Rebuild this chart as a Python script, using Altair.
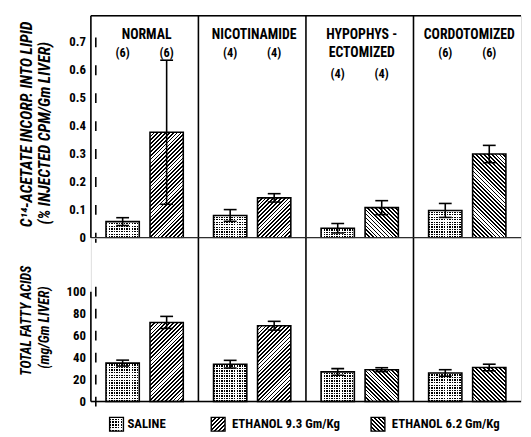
import math
import altair as alt
import pandas as pd

# ---------------- data ----------------
panels = ["NORMAL", "NICOTINAMIDE", "HYPOPHYSECTOMIZED", "CORDOTOMIZED"]
panel_titles = ["NORMAL", "NICOTINAMIDE", "HYPOPHYS -\nECTOMIZED", "CORDOTOMIZED"]
ethanol_dose = ["9.3", "9.3", "6.2", "6.2"]
n_saline = [6, 4, 4, 6]
n_ethanol = [6, 4, 4, 6]

acetate_saline = [0.058, 0.080, 0.034, 0.098]
acetate_saline_se = [0.014, 0.021, 0.017, 0.025]
acetate_ethanol = [0.378, 0.143, 0.108, 0.300]
acetate_ethanol_se = [0.258, 0.015, 0.025, 0.031]

fatty_saline = [35, 34, 27, 26]
fatty_saline_se = [2.7, 3.5, 3.0, 3.0]
fatty_ethanol = [72, 69, 29, 31]
fatty_ethanol_se = [5.5, 4.0, 1.8, 3.0]

acetate_ticks = [0, 0.1, 0.2, 0.3, 0.4, 0.5, 0.6, 0.7]
acetate_tick_labels = ["0", "0.1", "0.2", "0.3", "0.4", "0.5", "0.6", "0.7"]
fatty_ticks = [0, 20, 40, 60, 80, 100]
fatty_tick_labels = ["0", "20", "40", "60", "80", "100"]
acetate_title = ["C\u00b9\u2074-ACETATE  INCORP. INTO LIPID", "(% INJECTED CPM/Gm LIVER)"]
fatty_title = ["TOTAL FATTY ACIDS", "(mg/Gm LIVER)"]
legend_labels = ["SALINE", "ETHANOL 9.3 Gm/Kg", "ETHANOL 6.2 Gm/Kg"]

# ---------------- layout / style ----------------
FONT = "Roboto Condensed, Liberation Sans Narrow, Roboto, sans-serif"
PANEL_W = 109
W = PANEL_W * len(panels)
H_TOP, H_BOT = 225, 166
TOP_MAX, BOT_MAX = 0.795, 149
PAD_IN, PAD_OUT = 0.244, 0.344
STEP = PANEL_W / (2 - PAD_IN + 2 * PAD_OUT)
BAR_W = STEP * (1 - PAD_IN)
LW = 1.6
legend_swatch_x = [26, 129, 291]
legend_text_x = [37, 143, 305]
TITLE_X = [-65, -46]


def stripe_stops(n, frac, on, off):
    stops = []
    for k in range(n):
        a, b, c = k / n, (k + frac) / n, (k + 1) / n
        stops += [
            {"offset": round(a, 5), "color": on},
            {"offset": round(b, 5), "color": on},
            {"offset": round(b, 5), "color": off},
            {"offset": round(c, 5), "color": off},
        ]
    return stops


def hatch(w, h, forward, period=2.8, frac=0.45):
    h = max(h, 1.0)
    lam = (w + h) / (w * w + h * h)
    n = max(1, round((w + h) / math.sqrt(2) / period))
    if forward:
        x1, y1, x2, y2 = 0, 0, lam * w, lam * h
    else:
        x1, y1, x2, y2 = 0, 1, lam * w, 1 - lam * h
    return {"gradient": "linear", "x1": x1, "y1": y1, "x2": x2, "y2": y2,
            "stops": stripe_stops(n, frac, "black", "white")}


def vstripes(w, period=2.6):
    n = max(1, round(w / period))
    return {"gradient": "linear", "x1": 0, "y1": 0, "x2": 1, "y2": 0,
            "stops": stripe_stops(n, 0.55, "black", "white")}


def hstripes(h, period=2.6):
    n = max(1, round(max(h, 1) / period))
    return {"gradient": "linear", "x1": 0, "y1": 0, "x2": 0, "y2": 1,
            "stops": stripe_stops(n, 0.45, "white", "transparent")}


def make_row(sal, sal_se, eth, eth_se, ymax, height, ticks, tick_labels, title,
             title_size, title_y, top):
    rows = []
    for i, p in enumerate(panels):
        rows.append(dict(panel=p, title=panel_titles[i], slot="S", n=n_saline[i],
                         value=sal[i], se=sal_se[i]))
        rows.append(dict(panel=p, title=panel_titles[i], slot="E", n=n_ethanol[i],
                         value=eth[i], se=eth_se[i]))
    df = pd.DataFrame(rows)
    px = height / ymax

    fill_conds = [{"test": "datum.slot === 'S'", "value": vstripes(BAR_W)}]
    over_conds = []
    for i, p in enumerate(panels):
        fill_conds.append({
            "test": f"datum.panel === '{p}' && datum.slot === 'E'",
            "value": hatch(BAR_W, eth[i] * px, ethanol_dose[i] == "9.3"),
        })
        over_conds.append({
            "test": f"datum.panel === '{p}'",
            "value": hstripes(sal[i] * px),
        })

    X = alt.X("panel:N", sort=panels, axis=None,
              scale=alt.Scale(paddingInner=0, paddingOuter=0))
    XO = alt.XOffset("slot:N", sort=["S", "E"],
                     scale=alt.Scale(paddingInner=PAD_IN, paddingOuter=PAD_OUT))
    Y = alt.Y("value:Q", scale=alt.Scale(domain=[0, ymax], nice=False, zero=True),
              axis=None)

    base = alt.Chart(df)
    first = "datum.panel === 'NORMAL' && datum.slot === 'S'"

    bars = base.mark_bar().encode(
        x=X, xOffset=XO, y=Y,
        fill=alt.FillValue(value="white", condition=fill_conds),
    )
    over = base.transform_filter("datum.slot === 'S'").mark_bar().encode(
        x=X, xOffset=XO, y=alt.Y("value:Q", axis=None),
        fill=alt.FillValue(value="transparent", condition=over_conds),
    )
    outline = base.mark_bar(fillOpacity=0, stroke="black", strokeWidth=LW).encode(
        x=X, xOffset=XO, y=alt.Y("value:Q", axis=None),
    )
    err = base.transform_calculate(
        lo="datum.value - datum.se", hi="datum.value + datum.se"
    )
    err_rule = err.mark_rule(color="black", strokeWidth=LW).encode(
        x=X, xOffset=XO, y=alt.Y("lo:Q", axis=None), y2="hi:Q",
    )
    cap_hi = err.mark_tick(color="black", size=13, thickness=LW, opacity=1).encode(
        x=X, xOffset=XO, y=alt.Y("hi:Q", axis=None),
    )
    cap_lo = err.mark_tick(color="black", size=13, thickness=LW, opacity=1).encode(
        x=X, xOffset=XO, y=alt.Y("lo:Q", axis=None),
    )
    dividers = base.transform_filter(
        "datum.slot === 'S' && datum.panel !== 'NORMAL'"
    ).mark_rule(color="black", strokeWidth=LW).encode(
        x=alt.X("panel:N", sort=panels, axis=None, bandPosition=0),
        y=alt.value(0), y2=alt.value(height),
    )
    baseline = base.transform_filter(first).mark_rule(
        color="black", strokeWidth=LW
    ).encode(x=alt.value(0), x2=alt.value(W), y=alt.value(height))

    # hand-drawn y axis: inward ticks, bold labels, two-line italic title
    tick_data = alt.Data(values=[{"v": v, "lab": l} for v, l in zip(ticks, tick_labels)])
    tick_marks = alt.Chart(tick_data).mark_tick(
        color="black", orient="vertical", size=10, thickness=LW, opacity=1,
    ).encode(x=alt.value(5), y=alt.Y("v:Q", axis=None))
    tick_text = alt.Chart(tick_data).mark_text(
        font=FONT, fontSize=13, fontWeight="bold", align="right",
        baseline="middle", color="black",
    ).encode(x=alt.value(-5), y=alt.Y("v:Q", axis=None), text="lab:N")
    title_layers = []
    for k, line in enumerate(title):
        title_layers.append(alt.Chart(alt.Data(values=[{"t": line}])).mark_text(
            font=FONT, fontSize=title_size, fontWeight="bold", fontStyle="italic",
            angle=270, align="center", baseline="middle", color="black",
        ).encode(x=alt.value(TITLE_X[k]), y=alt.value(title_y[k]), text="t:N"))

    layers = [bars, over, outline, err_rule, cap_hi, cap_lo, dividers, baseline,
              tick_marks, tick_text] + title_layers

    if top:
        top_line = base.transform_filter(first).mark_rule(
            color="black", strokeWidth=LW
        ).encode(x=alt.value(0), x2=alt.value(W), y=alt.value(0))
        left_line = base.transform_filter(first).mark_rule(
            color="black", strokeWidth=LW
        ).encode(x=alt.value(0), y=alt.value(0), y2=alt.value(height))
        titles = base.transform_filter("datum.slot === 'S'").mark_text(
            font=FONT, fontSize=14, fontWeight="bold", baseline="alphabetic",
            lineBreak="\n", lineHeight=19, dx=2, color="black",
        ).encode(
            x=alt.X("panel:N", sort=panels, axis=None),
            y=alt.value(23), text="title:N",
        )
        nlab = base.transform_calculate(lab="'(' + datum.n + ')'")
        n_main = nlab.transform_filter(
            "datum.panel !== 'HYPOPHYSECTOMIZED'"
        ).mark_text(font=FONT, fontSize=12.5, fontWeight="bold", color="black").encode(
            x=X, xOffset=XO, y=alt.value(38), text="lab:N",
        )
        n_hypo = nlab.transform_filter(
            "datum.panel === 'HYPOPHYSECTOMIZED'"
        ).mark_text(font=FONT, fontSize=12.5, fontWeight="bold", color="black").encode(
            x=X, xOffset=XO, y=alt.value(59), text="lab:N",
        )
        layers += [top_line, left_line, titles, n_main, n_hypo]
    else:
        left_line = base.transform_filter(first).mark_rule(
            color="black", strokeWidth=LW
        ).encode(x=alt.value(0), y=alt.datum(0), y2=alt.datum(100))
        layers.append(left_line)
        # legend
        ly = height + 23
        sw_fills = [None, hatch(14, 14, True), hatch(14, 14, False)]
        for i, lab in enumerate(legend_labels):
            d = alt.Data(values=[{"label": lab}])
            if i == 0:
                layers.append(alt.Chart(d).mark_square(
                    size=196, opacity=1, fill=vstripes(14), strokeWidth=0
                ).encode(x=alt.value(legend_swatch_x[i]), y=alt.value(ly)))
                layers.append(alt.Chart(d).mark_square(
                    size=196, opacity=1, fill=hstripes(14), strokeWidth=0
                ).encode(x=alt.value(legend_swatch_x[i]), y=alt.value(ly)))
            else:
                layers.append(alt.Chart(d).mark_square(
                    size=196, opacity=1, fill=sw_fills[i], strokeWidth=0
                ).encode(x=alt.value(legend_swatch_x[i]), y=alt.value(ly)))
            layers.append(alt.Chart(d).mark_square(
                size=196, opacity=1, fillOpacity=0, stroke="black", strokeWidth=1.4
            ).encode(x=alt.value(legend_swatch_x[i]), y=alt.value(ly)))
            layers.append(alt.Chart(d).mark_text(
                font=FONT, fontSize=13, fontWeight="bold", align="left",
                baseline="middle", color="black",
            ).encode(x=alt.value(legend_text_x[i]), y=alt.value(ly), text="label:N"))

    return alt.layer(*layers).properties(width=W, height=height)


top_chart = make_row(acetate_saline, acetate_saline_se, acetate_ethanol,
                     acetate_ethanol_se, TOP_MAX, H_TOP, acetate_ticks,
                     acetate_tick_labels, acetate_title, 16, [110, 119], True)
bottom_chart = make_row(fatty_saline, fatty_saline_se, fatty_ethanol,
                        fatty_ethanol_se, BOT_MAX, H_BOT, fatty_ticks,
                        fatty_tick_labels, fatty_title, 14, [84, 91], False)

chart = alt.vconcat(top_chart, bottom_chart, spacing=0, bounds="flush").properties(
    padding={"left": 10, "top": 3, "right": 0, "bottom": 0},
    background="white",
).configure_view(strokeWidth=0).configure(font=FONT)

chart.save("out.html", embed_options={"renderer": "svg", "actions": False})
